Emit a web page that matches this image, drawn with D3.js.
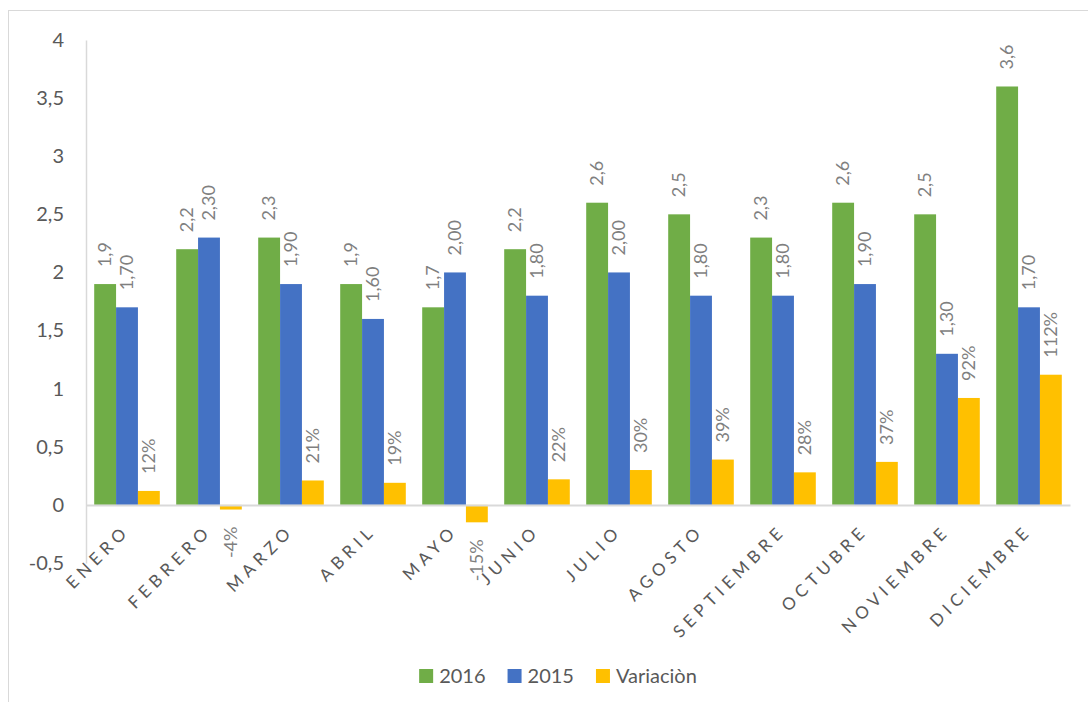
<!DOCTYPE html>
<html>
<head>
<meta charset="utf-8">
<script src="https://cdn.jsdelivr.net/npm/d3@7"></script>
<style>
  html, body { margin: 0; padding: 0; background: #fff; }
  svg { display: block; }
  text { font-family: Lato, "Open Sans", "Liberation Sans", sans-serif; }
</style>
</head>
<body>
<svg id="chart" width="1088" height="702"></svg>
<script>
const months = ["ENERO","FEBRERO","MARZO","ABRIL","MAYO","JUNIO","JULIO","AGOSTO","SEPTIEMBRE","OCTUBRE","NOVIEMBRE","DICIEMBRE"];
const values2016 = [1.9, 2.2, 2.3, 1.9, 1.7, 2.2, 2.6, 2.5, 2.3, 2.6, 2.5, 3.6];
const values2015 = [1.70, 2.30, 1.90, 1.60, 2.00, 1.80, 2.00, 1.80, 1.80, 1.90, 1.30, 1.70];
const variacion = [0.12, -0.04, 0.21, 0.19, -0.15, 0.22, 0.30, 0.39, 0.28, 0.37, 0.92, 1.12];
const yTicks = [-0.5, 0, 0.5, 1, 1.5, 2, 2.5, 3, 3.5, 4];
const seriesNames = ["2016", "2015", "Variaciòn"];
const seriesColors = ["#70ad47", "#4472c4", "#ffc000"];

const fmt1 = v => d3.format(".1f")(v).replace(".", ",");
const fmt2 = v => d3.format(".2f")(v).replace(".", ",");
const fmtPct = v => Math.round(v * 100) + "%";
const fmtTick = v => String(v).replace(".", ",");

const series = [
  { name: seriesNames[0], values: values2016, fmt: fmt1 },
  { name: seriesNames[1], values: values2015, fmt: fmt2 },
  { name: seriesNames[2], values: variacion, fmt: fmtPct }
];

const svg = d3.select("#chart");
const plotLeft = 86, plotRight = 1070, plotTop = 40, plotBottom = 563;

// outer chart border
svg.append("rect").attr("x", 8.5).attr("y", 10.5).attr("width", 1200).attr("height", 800)
  .attr("fill", "none").attr("stroke", "#d9d9d9").attr("stroke-width", 1);

const x = d3.scaleBand().domain(months).range([plotLeft, plotRight]).padding(0);
const inner = d3.scaleBand().domain(seriesNames).range([0, x.bandwidth() * 0.8]).padding(0);
const groupOffset = x.bandwidth() * 0.1;
const y = d3.scaleLinear().domain([-0.5, 4]).range([plotBottom, plotTop]);

// y axis
const yAxis = d3.axisLeft(y).tickValues(yTicks).tickFormat(fmtTick).tickSize(0).tickPadding(22);
const gy = svg.append("g").attr("transform", `translate(${plotLeft},0)`).call(yAxis);
gy.select(".domain").attr("stroke", "#d9d9d9").attr("stroke-width", 1.5);
gy.selectAll("text").attr("fill", "#595959").attr("font-size", 20)
  .attr("font-family", "Lato, 'Open Sans', sans-serif");

// bars
series.forEach((s, si) => {
  svg.append("g").selectAll("rect").data(s.values).join("rect")
    .attr("x", (d, i) => x(months[i]) + groupOffset + inner(s.name))
    .attr("width", inner.bandwidth())
    .attr("y", d => y(Math.max(0, d)))
    .attr("height", d => Math.abs(y(d) - y(0)))
    .attr("fill", seriesColors[si]);
});

// x axis line at zero
const xAxis = d3.axisBottom(x).tickSize(0).tickFormat("");
const gx = svg.append("g").attr("transform", `translate(0,${y(0)})`).call(xAxis);
gx.select(".domain").attr("stroke", "#d9d9d9").attr("stroke-width", 2);

// category labels
svg.append("g").selectAll("text").data(months).join("text")
  .attr("transform", d => `translate(${x(d) + x.bandwidth() / 2 + 4},${y(0) + 27}) rotate(-45)`)
  .attr("text-anchor", "end")
  .attr("fill", "#595959")
  .attr("font-size", 17)
  .attr("letter-spacing", "5px")
  .text(d => d);

// data labels
series.forEach((s, si) => {
  svg.append("g").selectAll("text").data(s.values).join("text")
    .attr("transform", (d, i) => {
      const cx = x(months[i]) + groupOffset + inner(s.name) + inner.bandwidth() / 2;
      const yy = d >= 0 ? y(d) - 17 : y(d) + 17;
      return `translate(${cx},${yy}) rotate(-90)`;
    })
    .attr("text-anchor", d => d >= 0 ? "start" : "end")
    .attr("dy", "0.35em")
    .attr("fill", "#7f7f7f")
    .attr("font-size", 18)
    .text(d => s.fmt(d));
});

// legend
const legend = svg.append("g");
let lx = 0;
seriesNames.forEach((n, i) => {
  const g = legend.append("g").attr("transform", `translate(${lx},0)`);
  g.append("rect").attr("x", 0).attr("y", -14).attr("width", 14).attr("height", 14).attr("fill", seriesColors[i]);
  const t = g.append("text").attr("x", 20).attr("y", 0).attr("fill", "#595959").attr("font-size", 20).text(n);
  lx += 20 + t.node().getComputedTextLength() + 22;
});
const legW = lx - 22;
legend.attr("transform", `translate(${558 - legW / 2},683)`);
</script>
</body>
</html>
